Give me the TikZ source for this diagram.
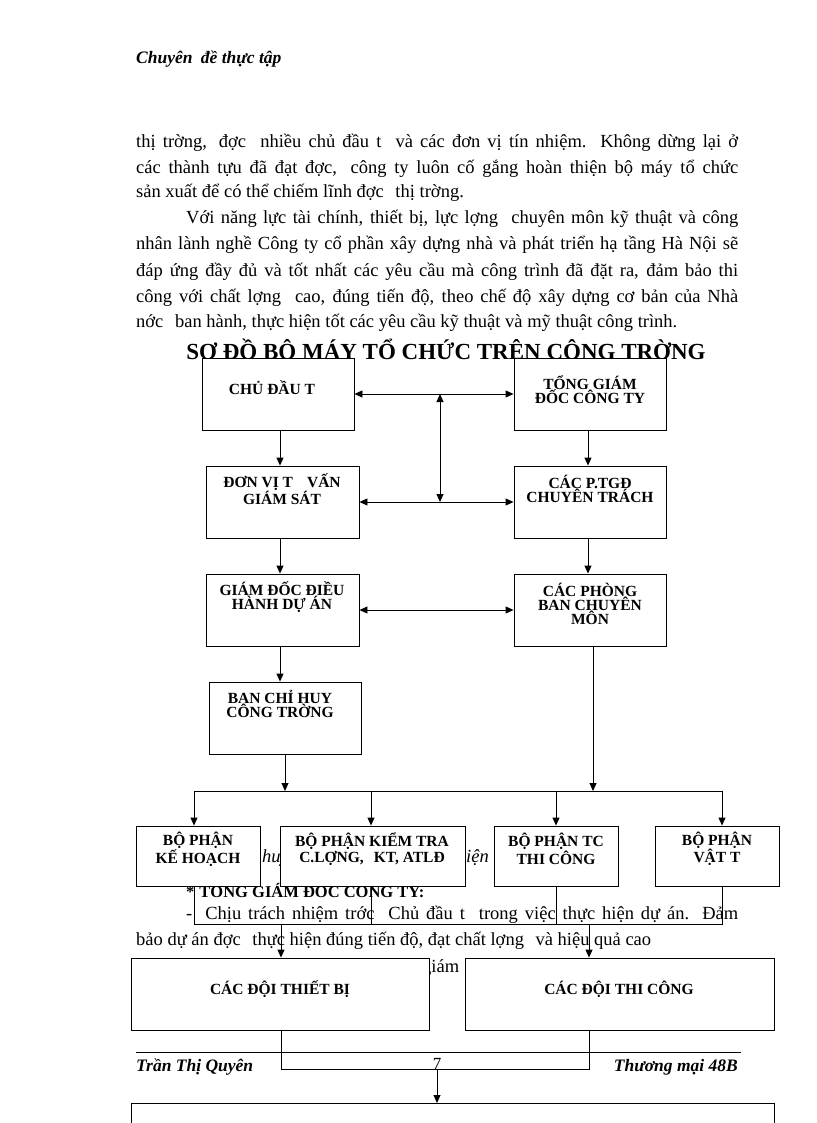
\documentclass[tikz,border=0pt]{standalone}
\usepackage{fontspec}
\setmainfont{Liberation Serif}
\usetikzlibrary{arrows.meta}
\tikzset{
  box/.style={draw, fill=white, line width=0.9pt, inner sep=0pt},
  btxt/.style={font=\bfseries\fontsize{15.5}{14}\selectfont, align=center, inner sep=0pt},
  body/.style={font=\fontsize{18.5}{25}\selectfont, anchor=base west, inner sep=0pt},
  ln/.style={line width=0.9pt},
  arr/.style={line width=0.9pt, -{Triangle[length=8pt,width=7pt]}},
  dbl/.style={line width=0.9pt, {Triangle[length=8pt,width=7pt]}-{Triangle[length=8pt,width=7pt]}},
}
\begin{document}
\begin{tikzpicture}[x=1pt,y=-1pt]
\path[use as bounding box, fill=white] (0,0) rectangle (816,1123);

% header
\node[body, font=\bfseries\itshape\fontsize{17.5}{18}\selectfont] (hdr) at (136,64) {Chuyên\hspace{4pt} đề thực tập};

% paragraph 1
\node[body] (p1) at (136,148) {\makebox[602pt][s]{thị trờng, \hspace{4pt}đợc\hspace{7pt} nhiều chủ đầu t\hspace{7pt} và các đơn vị tín nhiệm. Không dừng lại ở}};
\node[body] (p2) at (136,174) {\makebox[602pt][s]{các thành tựu đã đạt đợc,\hspace{5pt} công ty luôn cố gắng hoàn thiện bộ máy tổ chức}};
\node[body] (p3) at (136,198) {sản xuất để có thể chiếm lĩnh đợc\hspace{7pt} thị trờng.};
% paragraph 2
\node[body] (q1) at (186,224) {\makebox[552pt][s]{Với năng lực tài chính, thiết bị, lực lợng\hspace{7pt} chuyên môn kỹ thuật và công}};
\node[body] (q2) at (136,250) {\makebox[602pt][s]{nhân lành nghề Công ty cổ phần xây dựng nhà và phát triển hạ tầng Hà Nội sẽ}};
\node[body] (q3) at (136,276) {\makebox[602pt][s]{đáp ứng đầy đủ và tốt nhất các yêu cầu mà công trình đã đặt ra, đảm bảo thi}};
\node[body] (q4) at (136,302) {\makebox[602pt][s]{công với chất lợng\hspace{7pt} cao, đúng tiến độ, theo chế độ xây dựng cơ bản của Nhà}};
\node[body] (q5) at (136,327) {nớc\hspace{7pt} ban hành, thực hiện tốt các yêu cầu kỹ thuật và mỹ thuật công trình.};

% title
\node[font=\bfseries\fontsize{23}{25}\selectfont, anchor=base, inner sep=0pt] (title) at (446,359) {SƠ ĐỒ BỘ MÁY TỔ CHỨC TRÊN CÔNG TRỜNG};

% text behind lower boxes
\node[body, font=\itshape\fontsize{18.5}{25}\selectfont] (frag1) at (262,862) {huy};
\node[body, font=\itshape\fontsize{18.5}{25}\selectfont] (frag2) at (466,862) {iện};
\node[body, font=\bfseries\fontsize{16.5}{18}\selectfont] (star) at (186,897) {*\hspace{5pt}TỔNG GIÁM ĐỐC CÔNG TY:};
\node[body] (r1) at (186,919) {\makebox[552pt][s]{-\hspace{6pt} Chịu trách nhiệm trớc\hspace{7pt} Chủ đầu t\hspace{7pt} trong việc thực hiện dự án. Đảm}};
\node[body] (r2) at (136,945) {bảo dự án đợc\hspace{7pt} thực hiện đúng tiến độ, đạt chất lợng\hspace{7pt} và hiệu quả cao};
\node[body] (r3) at (422,972) {giám};

% boxes
\node[box, minimum width=152pt, minimum height=72pt] (cdt) at (278,394) {};
\node[btxt] (cdtT) at (272,388) {CHỦ ĐẦU T};
\node[box, minimum width=152pt, minimum height=72pt] (tgd) at (590,394) {};
\node[btxt] (tgdT) at (590,390) {TỔNG GIÁM\\ĐỐC CÔNG TY};

\node[box, minimum width=153pt, minimum height=72pt] (dv) at (282.5,502) {};
\node[btxt] (dvT) at (282,489) {ĐƠN VỊ T\hspace{14pt}VẤN\\GIÁM SÁT};
\node[box, minimum width=152pt, minimum height=72pt] (ptgd) at (590,502) {};
\node[btxt] (ptgdT) at (590,489) {CÁC P.TGĐ\\CHUYÊN TRÁCH};

\node[box, minimum width=153pt, minimum height=72pt] (gd) at (282.5,610) {};
\node[btxt] (gdT) at (282,597) {GIÁM ĐỐC ĐIỀU\\HÀNH DỰ ÁN};
\node[box, minimum width=152pt, minimum height=72pt] (pb) at (590,610) {};
\node[btxt] (pbT) at (590,604) {CÁC PHÒNG\\BAN CHUYÊN\\MÔN};

\node[box, minimum width=152pt, minimum height=72pt] (bch) at (285,718) {};
\node[btxt] (bchT) at (280,704) {BAN CHỈ HUY\\CÔNG TRỜNG};

\node[box, minimum width=124pt, minimum height=60pt] (bA) at (198,856) {};
\node[btxt] (bAT) at (198,849) {BỘ PHẬN\\KẾ HOẠCH};
\node[box, minimum width=185pt, minimum height=60pt] (bB) at (372.5,856) {};
\node[btxt] (bBT) at (372,849) {BỘ PHẬN KIỂM TRA\\C.LỢNG,\hspace{10pt}KT, ATLĐ};
\node[box, minimum width=124pt, minimum height=60pt] (bC) at (556,856) {};
\node[btxt] (bCT) at (556,849) {BỘ PHẬN TC\\THI CÔNG};
\node[box, minimum width=124pt, minimum height=60pt] (bD) at (717,856) {};
\node[btxt] (bDT) at (717,849) {BỘ PHẬN\\VẬT T};

\node[box, minimum width=298pt, minimum height=72pt] (tb) at (280,994) {};
\node[btxt] (tbT) at (280,989) {CÁC ĐỘI THIẾT BỊ};
\node[box, minimum width=309pt, minimum height=72pt] (tc) at (619.5,994) {};
\node[btxt] (tcT) at (619,989) {CÁC ĐỘI THI CÔNG};

\node[box, minimum width=643pt, minimum height=60pt, anchor=north west] (last) at (131,1103) {};

% footer
\draw[line width=0.9pt] (136,1052) coordinate (fL) -- (741,1052) coordinate (fR);
\node[body, font=\bfseries\itshape\fontsize{17.5}{18}\selectfont] (fn) at (136,1071) {Trần Thị Quyên};
\node[font=\bfseries\itshape\fontsize{17.5}{18}\selectfont, anchor=base east, inner sep=0pt] (fc) at (738,1071) {Thương mại 48B};
\node[font=\fontsize{17}{18}\selectfont, anchor=base, inner sep=0pt] (pg) at (437,1069) {7};

% connectors upper
\draw[arr] (cdt.south -| 280,0) -- (dv.north -| 280,0);
\draw[arr] (tgd.south -| 588,0) -- (ptgd.north -| 588,0);
\draw[arr] (dv.south -| 280,0) -- (gd.north -| 280,0);
\draw[arr] (ptgd.south -| 588,0) -- (pb.north -| 588,0);
\draw[arr] (gd.south -| 280,0) -- (bch.north -| 280,0);
\draw[dbl] (cdt.east) -- (tgd.west);
\draw[dbl] (dv.east) -- (ptgd.west);
\draw[dbl] (gd.east) -- (pb.west);
\coordinate (m1) at (440,394);
\coordinate (m2) at (440,502);
\draw[dbl] (m1) -- (m2);

% bus
\coordinate (busL) at (194,791);
\coordinate (busR) at (722,791);
\draw[ln] (busL) -- (busR);
\draw[arr] (bch.south) -- (bch.south |- busL);
\draw[arr] (pb.south -| 593,0) -- (593,791);
\draw[arr] (busL) -- (busL |- bA.north);
\draw[arr] (371,791) -- (bB.north -| 371,0);
\draw[arr] (bC.north |- busL) -- (bC.north);
\draw[arr] (busR) -- (busR |- bD.north);

% lower connectors
\coordinate (lowL) at (194,924);
\coordinate (lowR) at (722,924);
\draw[ln] (bA.south -| lowL) -- (lowL) -- (lowR) -- (bD.south -| lowR);
\draw[ln] (bB.south -| 371,0) -- (371,924);
\draw[ln] (bC.south) -- (bC.south |- lowL);
\draw[arr] (281,924) -- (tb.north -| 281,0);
\draw[arr] (589,924) -- (tc.north -| 589,0);

% bottom connector
\coordinate (botM) at (437,1069);
\draw[ln] (tb.south -| 281,0) -- (281,1069) -- (589,1069) -- (tc.south -| 589,0);
\draw[arr] (botM) -- (botM |- last.north);
\end{tikzpicture}
\end{document}
